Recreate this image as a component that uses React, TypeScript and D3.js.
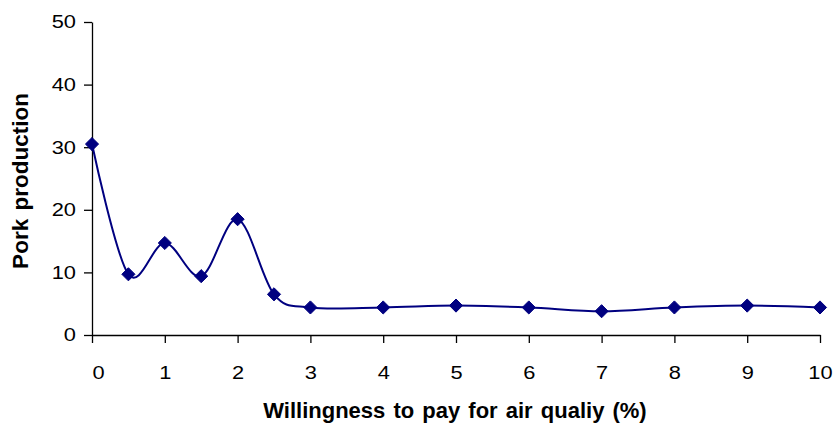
import { useEffect, useRef } from "react";
import * as d3 from "d3";

// WTP for air quality (%) vs pork production
const wtp = [0, 0.5, 1, 1.5, 2, 2.5, 3, 4, 5, 6, 7, 8, 9, 10];
const pork = [30.5, 9.7, 14.7, 9.4, 18.5, 6.5, 4.4, 4.4, 4.7, 4.4, 3.8, 4.4, 4.7, 4.4];
const xTicks = [0, 1, 2, 3, 4, 5, 6, 7, 8, 9, 10];
const yTicks = [0, 10, 20, 30, 40, 50];

const WIDTH = 837;
const HEIGHT = 423;
const FONT = "'Liberation Sans', Arial, sans-serif";
const NAVY = "#000080";
// tick labels in the original are a little wider than plain Arial
const STRETCH = 1.18;

export default function App() {
  const svgRef = useRef<SVGSVGElement>(null);

  useEffect(() => {
    if (!svgRef.current) return;
    const svg = d3.select(svgRef.current);
    svg.selectAll("*").remove();

    const x = d3.scaleLinear().domain([0, 10]).range([92, 820]);
    const y = d3.scaleLinear().domain([0, 50]).range([335, 22]);

    const g = svg.append("g").attr("font-family", FONT);

    // y axis
    const yAxis = g
      .append("g")
      .attr("transform", `translate(${x(0)},0)`)
      .call(d3.axisLeft(y).tickValues(yTicks).tickSize(8).tickPadding(8).tickSizeOuter(0));
    yAxis.select(".domain").attr("stroke", "#000").attr("stroke-width", 1.3);
    yAxis.selectAll(".tick line").attr("stroke", "#000").attr("stroke-width", 1.3);
    yAxis
      .selectAll("text")
      .attr("font-size", 18.5)
      .attr("fill", "#000")
      .attr("font-family", FONT)
      .attr("x", -16 / STRETCH)
      .attr("transform", `scale(${STRETCH},1)`);

    // x axis
    const xAxis = g
      .append("g")
      .attr("transform", `translate(0,${y(0)})`)
      .call(
        d3
          .axisBottom(x)
          .tickValues(xTicks)
          .tickSize(8)
          .tickSizeOuter(0)
          .tickFormat((d) => String(d))
      );
    xAxis.select(".domain").attr("stroke", "#000").attr("stroke-width", 1.3);
    xAxis.selectAll(".tick line").attr("stroke", "#000").attr("stroke-width", 1.3);
    xAxis
      .selectAll<SVGTextElement, number>("text")
      .attr("font-size", 18.5)
      .attr("fill", "#000")
      .attr("font-family", FONT)
      .attr("y", 44)
      .attr("dy", 0)
      .attr("transform", `scale(${STRETCH},1)`)
      // Excel nudges the first label inward
      .attr("x", (d) => (d === 0 ? 6 / STRETCH : 0));

    // smoothed line
    const pts: [number, number][] = wtp.map((v, i) => [v, pork[i]]);
    const line = d3
      .line<[number, number]>()
      .x((d) => x(d[0]))
      .y((d) => y(d[1]))
      .curve(d3.curveCatmullRom.alpha(0));
    g.append("path")
      .datum(pts)
      .attr("d", line)
      .attr("fill", "none")
      .attr("stroke", NAVY)
      .attr("stroke-width", 2);

    // diamond markers
    const diamond = d3.symbol().type(d3.symbolDiamond2).size(110);
    g.selectAll("path.marker")
      .data(pts)
      .join("path")
      .attr("class", "marker")
      .attr("transform", (d) => `translate(${x(d[0])},${y(d[1])})`)
      .attr("d", diamond)
      .attr("fill", NAVY)
      .attr("stroke", NAVY)
      .attr("stroke-width", 1);

    // titles
    g.append("text")
      .attr("x", 455)
      .attr("y", 418)
      .attr("text-anchor", "middle")
      .attr("font-size", 22)
      .attr("font-weight", "bold")
      .attr("word-spacing", 2)
      .text("Willingness to pay for air qualiy (%)");

    g.append("text")
      .attr("transform", "translate(28,181) rotate(-90)")
      .attr("text-anchor", "middle")
      .attr("font-size", 22.5)
      .attr("font-weight", "bold")
      .attr("word-spacing", 2)
      .text("Pork production");
  }, []);

  return (
    <svg
      ref={svgRef}
      width={WIDTH}
      height={HEIGHT}
      style={{ position: "absolute", left: 0, top: 0, background: "#fff" }}
    />
  );
}
